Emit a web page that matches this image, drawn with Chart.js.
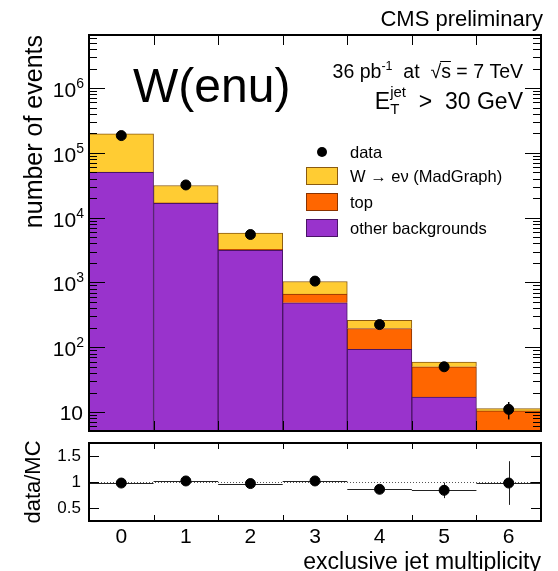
<!DOCTYPE html>
<html>
<head>
<meta charset="utf-8">
<script src="https://cdn.jsdelivr.net/npm/chart.js@4.4.0/dist/chart.umd.min.js"></script>
<style>
  html, body { margin: 0; padding: 0; background: #fff; }
  #wrap { position: relative; width: 558px; height: 571px; overflow: hidden; }
  #mainBox { position: absolute; left: 0; top: 0; width: 558px; height: 437px; }
  #ratioBox { position: absolute; left: 0; top: 437px; width: 558px; height: 140px; }
</style>
</head>
<body>
<div id="wrap">
  <div id="mainBox"><canvas id="mainChart"></canvas></div>
  <div id="ratioBox"><canvas id="ratioChart"></canvas></div>
</div>
<script>
// data <------------------------------------------------------------->
const jetBins = ['0', '1', '2', '3', '4', '5', '6'];
const otherBkg = [50000, 16600, 3140, 485, 93, 17, 2];
const topBkg = [500, 300, 100, 176, 102, 33, 8.4];
const wSignal = [145500, 14500, 2560, 374, 65, 9, 0.9];
const dataCounts = [185000, 32000, 5500, 1050, 224, 50, 11];
const dataErr = [430, 180, 74, 32, 15, 7, 3.3];
const ratioVals = [0.98, 1.02, 0.97, 1.02, 0.86, 0.84, 0.98];
const ratioErr = [0.01, 0.01, 0.02, 0.04, 0.06, 0.15, 0.42];
const ratioTicks = [0.5, 1, 1.5];
const logDecades = [1, 2, 3, 4, 5, 6];

const FONT = "'Liberation Sans', Arial, Helvetica, 'DejaVu Sans', sans-serif";
Chart.defaults.font.family = FONT;
Chart.defaults.color = '#000';

const colW = '#FFCC33', colTop = '#FF6600', colOther = '#9933CC';

function line(ctx, x1, y1, x2, y2) {
    ctx.beginPath();
    ctx.moveTo(x1, y1);
    ctx.lineTo(x2, y2);
    ctx.stroke();
}

// draws a row of text pieces [text, size, dy, noAdvance], returns the pieces with x/w filled in
function richText(ctx, parts, x, y, align) {
    let total = 0;
    parts.forEach(p => {
        ctx.font = p[1] + 'px ' + FONT;
        p.w = ctx.measureText(p[0]).width;
        if (!p[3]) total += p.w;
    });
    let cx = align === 'right' ? x - total : x;
    ctx.textAlign = 'left';
    ctx.textBaseline = 'alphabetic';
    parts.forEach(p => {
        ctx.font = p[1] + 'px ' + FONT;
        ctx.fillText(p[0], cx, y + (p[2] || 0));
        p.x = cx;
        if (!p[3]) cx += p.w;
    });
    return parts;
}

// ROOT style frame, ticks, labels and legend for the main pad
const mainDecor = {
    id: 'mainDecor',
    afterDatasetsDraw(chart) {
        const ctx = chart.ctx;
        const xs = chart.scales.x, ys = chart.scales.y;
        ctx.save();
        ctx.strokeStyle = '#000';
        ctx.lineWidth = 1.5;
        dataCounts.forEach((v, i) => {
            const x = xs.getPixelForValue(i);
            line(ctx, x, ys.getPixelForValue(v + dataErr[i]), x, ys.getPixelForValue(v - dataErr[i]));
        });
        ctx.restore();
    },
    afterDraw(chart) {
        const ctx = chart.ctx;
        const a = chart.chartArea;
        const xs = chart.scales.x, ys = chart.scales.y;
        ctx.save();
        ctx.strokeStyle = '#000';
        ctx.fillStyle = '#000';

        // log ticks, both sides
        ctx.lineWidth = 1;
        for (let e = 0; e <= 7; e++) {
            for (let m = 1; m <= 9; m++) {
                const v = m * Math.pow(10, e);
                if (v < ys.min || v > ys.max) continue;
                const y = Math.round(ys.getPixelForValue(v)) + 0.5;
                const len = m === 1 ? 16 : 8;
                line(ctx, a.left, y, a.left + len, y);
                line(ctx, a.right, y, a.right - len, y);
            }
        }
        // bin edge ticks
        for (let i = 1; i < jetBins.length; i++) {
            const x = Math.round(xs.getPixelForValue(i - 0.5)) + 0.5;
            line(ctx, x, a.bottom, x, a.bottom - 10);
            line(ctx, x, a.top, x, a.top + 10);
        }
        ctx.lineWidth = 2;
        ctx.strokeRect(a.left, a.top, a.right - a.left, a.bottom - a.top);

        // y tick labels 10^n
        logDecades.forEach(e => {
            const y = ys.getPixelForValue(Math.pow(10, e));
            if (e === 1) {
                richText(ctx, [['10', 21, 0]], 83, y + 8, 'right');
            } else {
                richText(ctx, [['10', 21, 0], [String(e), 14, -9]], 84, y + 9, 'right');
            }
        });

        // labels
        richText(ctx, [['CMS preliminary', 22, 0]], 543, 26, 'right');
        richText(ctx, [['W(enu)', 48, 0]], 133, 102, 'left');
        const lumi = richText(ctx, [['36 pb', 19.5, 0], ['-1', 12.5, -8], ['  at  ', 19.5, 0], ['\u221A', 19.5, 0], ['s', 19.5, 0], [' = 7 TeV', 19.5, 0]], 523, 78, 'right');
        ctx.lineWidth = 1;
        const sq = lumi[3], s = lumi[4];
        line(ctx, sq.x + sq.w - 1, 61.5, s.x + s.w, 61.5);
        richText(ctx, [['E', 23, 0], ['T', 15, 5, true], ['jet', 15, -12], ['  >  30 GeV', 23, 0]], 523, 109, 'right');

        // legend
        ctx.beginPath();
        ctx.arc(322, 152, 5, 0, Math.PI * 2);
        ctx.fill();
        richText(ctx, [['data', 16.5, 0]], 350, 158, 'left');
        const boxes = [
            [colW, '#8a5a10', 'W \u2192 e\u03BD (MadGraph)', 167],
            [colTop, '#8a3300', 'top', 193],
            [colOther, '#4a1466', 'other backgrounds', 219]
        ];
        boxes.forEach(b => {
            ctx.fillStyle = b[0];
            ctx.fillRect(306, b[3], 32, 18);
            ctx.strokeStyle = b[1];
            ctx.lineWidth = 1;
            ctx.strokeRect(306.5, b[3] + 0.5, 31, 17);
            ctx.fillStyle = '#000';
            richText(ctx, [[b[2], 16.5, 0]], 350, b[3] + 15, 'left');
        });
        ctx.restore();
    }
};

// ratio pad decorations: reference line, bin widths, error bars, frame
const ratioDecor = {
    id: 'ratioDecor',
    beforeDatasetsDraw(chart) {
        const ctx = chart.ctx;
        const a = chart.chartArea;
        const xs = chart.scales.x, ys = chart.scales.y;
        ctx.save();
        ctx.strokeStyle = '#555';
        ctx.lineWidth = 1;
        ctx.setLineDash([1, 2]);
        const y1 = Math.round(ys.getPixelForValue(1)) + 0.5;
        line(ctx, a.left, y1, a.right, y1);
        ctx.setLineDash([]);
        ctx.strokeStyle = '#222';
        ratioVals.forEach((v, i) => {
            const y = Math.round(ys.getPixelForValue(v)) + 0.5;
            line(ctx, xs.getPixelForValue(i - 0.5), y, xs.getPixelForValue(i + 0.5), y);
            const x = Math.round(xs.getPixelForValue(i)) + 0.5;
            line(ctx, x, ys.getPixelForValue(v + ratioErr[i]), x, ys.getPixelForValue(v - ratioErr[i]));
        });
        ctx.restore();
    },
    afterDraw(chart) {
        const ctx = chart.ctx;
        const a = chart.chartArea;
        const xs = chart.scales.x, ys = chart.scales.y;
        ctx.save();
        ctx.strokeStyle = '#000';
        ctx.lineWidth = 1;
        ratioTicks.forEach(v => {
            const y = Math.round(ys.getPixelForValue(v)) + 0.5;
            line(ctx, a.left, y, a.left + 10, y);
            line(ctx, a.right, y, a.right - 10, y);
        });
        for (let i = 1; i < jetBins.length; i++) {
            const x = Math.round(xs.getPixelForValue(i - 0.5)) + 0.5;
            line(ctx, x, a.bottom, x, a.bottom - 6);
            line(ctx, x, a.top, x, a.top + 6);
        }
        ctx.lineWidth = 2;
        ctx.strokeRect(a.left, a.top, a.right - a.left, a.bottom - a.top);
        ctx.restore();
    }
};

function noScalePadding(s) {
    s.paddingTop = 0;
    s.paddingBottom = 0;
    s.paddingLeft = 0;
    s.paddingRight = 0;
}

new Chart(document.getElementById('mainChart'), {
    type: 'bar',
    data: {
        labels: jetBins,
        datasets: [
            { label: 'other backgrounds', data: otherBkg, backgroundColor: colOther, borderColor: '#4a1466', borderWidth: 1 },
            { label: 'top', data: topBkg, backgroundColor: colTop, borderColor: '#8a3300', borderWidth: 1 },
            { label: 'W \u2192 e\u03BD (MadGraph)', data: wSignal, backgroundColor: colW, borderColor: '#8a5a10', borderWidth: 1 },
            {
                type: 'line', label: 'data', data: dataCounts, showLine: false, order: -1,
                pointRadius: 5, pointBackgroundColor: '#000', pointBorderColor: '#000'
            }
        ]
    },
    options: {
        responsive: true,
        maintainAspectRatio: false,
        animation: false,
        layout: { padding: { left: 0, right: 17, top: 35, bottom: 5 } },
        datasets: { bar: { barPercentage: 1, categoryPercentage: 1 } },
        scales: {
            x: { display: false, stacked: true, offset: true },
            y: {
                type: 'logarithmic',
                stacked: true,
                min: 5.1,
                max: 6.6e6,
                ticks: { display: false },
                grid: { display: false, drawTicks: false },
                border: { display: false },
                title: { display: true, text: 'number of events', align: 'end', font: { size: 25 }, padding: { top: 20 } },
                afterFit: s => { s.width = 89; noScalePadding(s); }
            }
        },
        plugins: { legend: { display: false }, tooltip: { enabled: false } }
    },
    plugins: [mainDecor]
});

new Chart(document.getElementById('ratioChart'), {
    type: 'line',
    data: {
        labels: jetBins,
        datasets: [{
            label: 'data/MC', data: ratioVals, showLine: false,
            pointRadius: 5, pointBackgroundColor: '#000', pointBorderColor: '#000'
        }]
    },
    options: {
        responsive: true,
        maintainAspectRatio: false,
        animation: false,
        layout: { padding: { left: 0, right: 17, top: 5, bottom: 0 } },
        scales: {
            x: {
                offset: true,
                grid: { display: false, drawTicks: false },
                border: { display: false },
                ticks: { font: { size: 21 }, padding: 4 },
                title: { display: true, text: 'exclusive jet multiplicity', align: 'end', font: { size: 23 }, padding: { top: 0, bottom: 1 } },
                afterFit: s => { s.height = 56; noScalePadding(s); }
            },
            y: {
                min: 0.25,
                max: 1.75,
                afterBuildTicks: s => { s.ticks = ratioTicks.map(v => ({ value: v })); },
                ticks: { font: { size: 17 }, padding: 8, callback: v => String(v) },
                grid: { display: false, drawTicks: false },
                border: { display: false },
                title: { display: true, text: 'data/MC', font: { size: 22 }, padding: { top: 21 } },
                afterFit: s => { s.width = 89; noScalePadding(s); }
            }
        },
        plugins: { legend: { display: false }, tooltip: { enabled: false } }
    },
    plugins: [ratioDecor]
});
</script>
</body>
</html>
